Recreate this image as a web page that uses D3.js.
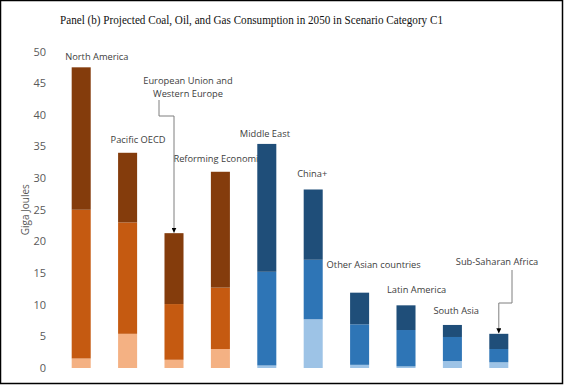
<!DOCTYPE html>
<html>
<head>
<meta charset="utf-8">
<script src="https://cdn.jsdelivr.net/npm/d3@7"></script>
<style>
  body { margin: 0; background: #fff; }
  svg { display: block; }
</style>
</head>
<body>
<svg id="chart" width="564" height="385"></svg>
<script>
// regions, left to right
const regions = ["North America", "Pacific OECD", "European Union and Western Europe",
  "Reforming Economies", "Middle East", "China+", "Other Asian countries",
  "Latin America", "South Asia", "Sub-Saharan Africa"];
// stacked segments, bottom to top (GJ)
const coal = [1.5, 5.4, 1.3, 3.0, 0.4, 7.7, 0.5, 0.25, 1.1, 0.9];
const oil  = [23.5, 17.6, 8.8, 9.7, 14.8, 9.4, 6.4, 5.75, 3.8, 2.1];
const gas  = [22.5, 11.0, 11.2, 18.3, 20.2, 11.1, 5.0, 3.9, 1.9, 2.4];
const group = ["oecd", "oecd", "oecd", "oecd", "dev", "dev", "dev", "dev", "dev", "dev"];
const yTicks = [0, 5, 10, 15, 20, 25, 30, 35, 40, 45, 50];
const title = "Panel (b) Projected Coal, Oil, and Gas Consumption in 2050 in Scenario Category C1";

const palette = {
  oecd: ["#f4b183", "#c55a11", "#843c0c"],
  dev:  ["#9dc3e6", "#2e75b6", "#1f4e79"]
};

const svg = d3.select("#chart");
const W = 564, H = 385;

// frame
svg.append("rect")
  .attr("x", 0.5).attr("y", 0.5)
  .attr("width", W - 2).attr("height", H - 2)
  .attr("fill", "#fff").attr("stroke", "#000").attr("stroke-width", 1.5);

svg.append("text")
  .attr("x", 60).attr("y", 24)
  .attr("font-family", "Liberation Serif, DejaVu Serif, serif")
  .attr("font-size", 12)
  .attr("textLength", 383)
  .attr("lengthAdjust", "spacingAndGlyphs")
  .attr("fill", "#111")
  .text(title);

const x = d3.scaleBand()
  .domain(regions)
  .range([58, 522])
  .paddingInner(0.59)
  .paddingOuter(0.295);

const y = d3.scaleLinear().domain([0, 50]).range([368, 51.5]);

const font = "Open Sans, Noto Sans, sans-serif";

// y axis labels only (no line, no ticks)
const yAxis = d3.axisLeft(y).tickValues(yTicks).tickSize(0).tickPadding(0);
const gy = svg.append("g").attr("transform", "translate(46,0)").call(yAxis);
gy.select(".domain").remove();
gy.selectAll("text")
  .attr("font-family", font)
  .attr("font-size", 11)
  .attr("fill", "#595959");

svg.append("text")
  .attr("transform", "translate(29," + y(25) + ") rotate(-90)")
  .attr("text-anchor", "middle")
  .attr("font-family", font)
  .attr("font-size", 10)
  .style("fill", "#595959")
  .text("Giga Joules");

// labels, drawn before bars so bars can cover them (as in the original)
const labels = [
  {r: "North America", lines: ["North America"], dx: -16, y: 60},
  {r: "Pacific OECD", lines: ["Pacific OECD"], dx: -17, y: 143},
  {r: "European Union and Western Europe", lines: ["European Union and", "Western Europe"], dx: 14, y: 84, anchor: "middle"},
  {r: "Reforming Economies", lines: ["Reforming Economies"], dx: -47, y: 162},
  {r: "Middle East", lines: ["Middle East"], dx: -27, y: 137},
  {r: "China+", lines: ["China+"], dx: -16, y: 177},
  {r: "Other Asian countries", lines: ["Other Asian countries"], dx: -33, y: 268},
  {r: "Latin America", lines: ["Latin America"], dx: -19, y: 293},
  {r: "South Asia", lines: ["South Asia"], dx: -19, y: 314},
  {r: "Sub-Saharan Africa", lines: ["Sub-Saharan Africa"], dx: -43, y: 265}
];

labels.forEach(l => {
  const cx = x(l.r) + x.bandwidth() / 2;
  const t = svg.append("text")
    .attr("font-family", font)
    .attr("font-size", 9.3)
    .attr("fill", "#404040")
    .attr("text-anchor", l.anchor || "start");
  l.lines.forEach((s, i) => {
    t.append("tspan").attr("x", cx + l.dx).attr("y", l.y + i * 13).text(s);
  });
});

// stacked bars
const rows = regions.map((r, i) => ({region: r, group: group[i], coal: coal[i], oil: oil[i], gas: gas[i]}));
const stack = d3.stack().keys(["coal", "oil", "gas"]);
const series = stack(rows);

series.forEach((s, k) => {
  svg.append("g").selectAll("rect")
    .data(s)
    .join("rect")
    .attr("x", d => x(d.data.region))
    .attr("y", d => y(d[1]))
    .attr("width", x.bandwidth())
    .attr("height", d => y(d[0]) - y(d[1]))
    .attr("fill", d => palette[d.data.group][k]);
});

// callout arrows
const total = i => coal[i] + oil[i] + gas[i];
svg.append("defs").append("marker")
  .attr("id", "head")
  .attr("viewBox", "0 0 10 10")
  .attr("refX", 10).attr("refY", 5)
  .attr("markerWidth", 5).attr("markerHeight", 5)
  .attr("orient", "auto")
  .append("path").attr("d", "M0,0L10,5L0,10Z").attr("fill", "#000");

function callout(i, x0, y0, yBend) {
  const cx = x(regions[i]) + x.bandwidth() / 2;
  svg.append("path")
    .attr("d", d3.line()([[x0, y0], [x0, yBend], [cx, yBend], [cx, y(total(i)) - 0.5]]))
    .attr("fill", "none")
    .attr("stroke", "#7f7f7f")
    .attr("stroke-width", 1)
    .attr("marker-end", "url(#head)");
}
callout(2, 159, 100, 116);
callout(9, 512, 270, 303);
</script>
</body>
</html>
